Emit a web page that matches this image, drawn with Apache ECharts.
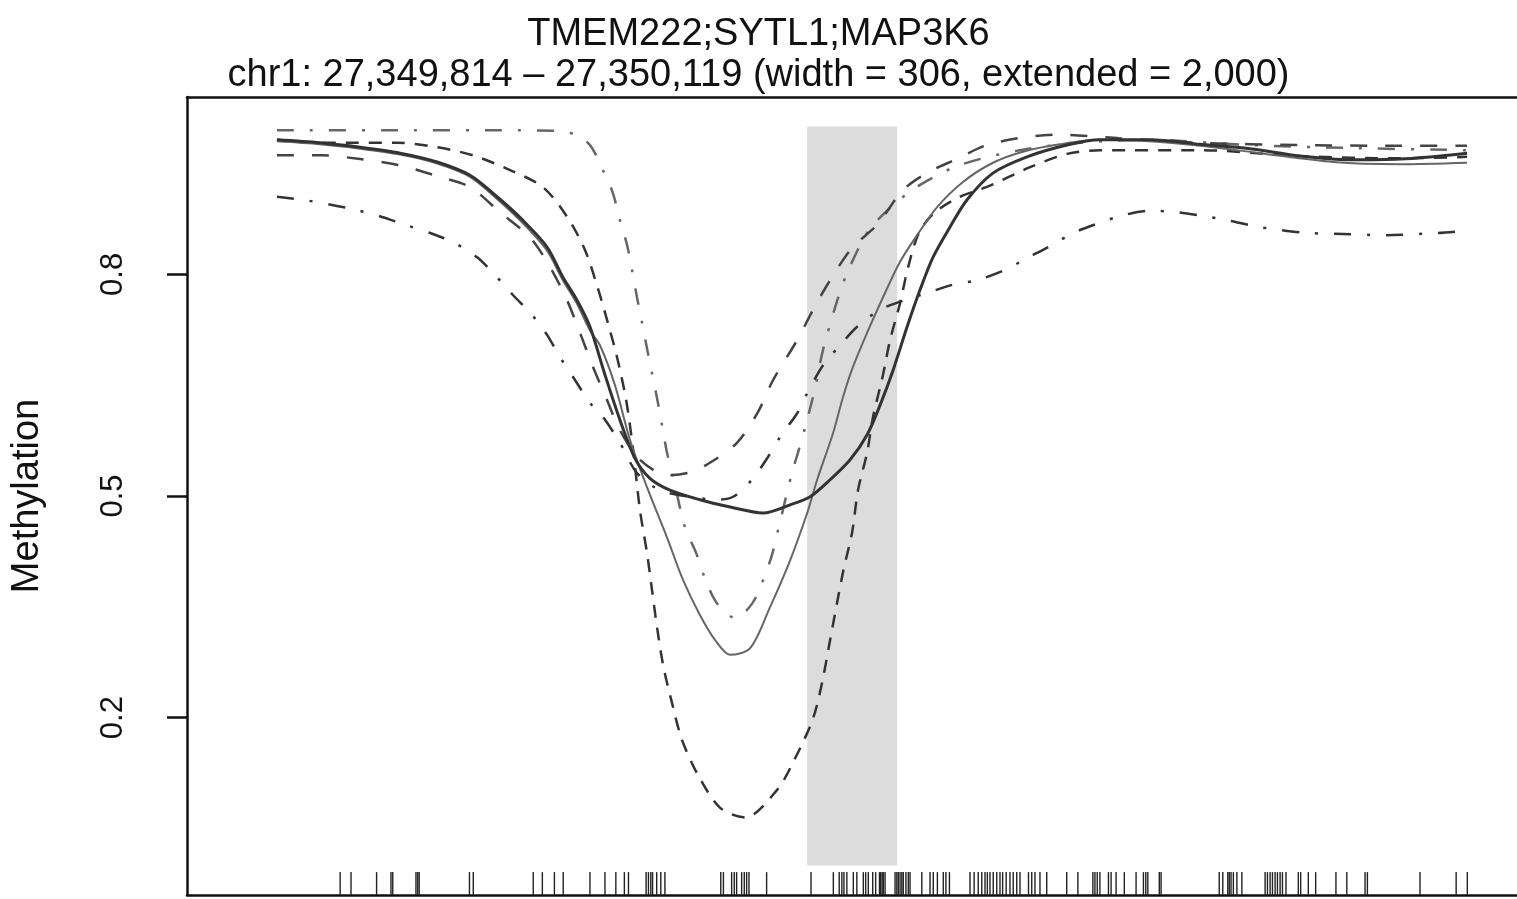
<!DOCTYPE html>
<html>
<head>
<meta charset="utf-8">
<script src="https://cdn.jsdelivr.net/npm/echarts@6/dist/echarts.min.js"></script>
<style>
  html, body { margin: 0; padding: 0; background: #fff; }
  #chart { width: 1517px; height: 899px; }
</style>
</head>
<body>
<div id="chart"></div>
<script>
// positions are bp offsets from the start of the extended window (27,347,814)
var titleMain = 'TMEM222;SYTL1;MAP3K6';
var titleSub = 'chr1: 27,349,814 \u2013 27,350,119 (width = 306, extended = 2,000)';
var regionStart = 2000, regionEnd = 2306;
var yTicks = [0.2, 0.5, 0.8];

// solid, thick
var sampleA = [[196,0.982],[343,0.978],[479,0.972],[615,0.964],[741,0.952],[853,0.934],[945,0.905],[1033,0.873],
  [1115,0.837],[1169,0.796],[1217,0.765],[1261,0.729],[1312,0.664],[1363,0.603],[1414,0.551],[1465,0.524],
  [1533,0.508],[1635,0.495],[1738,0.485],[1850,0.477],[1942,0.488],[2010,0.499],[2078,0.522],[2146,0.549],
  [2204,0.583],[2248,0.623],[2292,0.670],[2340,0.729],[2384,0.779],[2428,0.823],[2486,0.864],[2544,0.901],
  [2632,0.937],[2748,0.959],[2884,0.975],[2996,0.982],[3166,0.982],[3337,0.976],[3507,0.970],[3677,0.960],
  [3847,0.955],[4017,0.956],[4245,0.964]];
// solid, thin
var sampleB = [[196,0.980],[343,0.976],[479,0.970],[615,0.962],[741,0.950],[853,0.932],[945,0.902],[1033,0.869],
  [1115,0.832],[1169,0.792],[1217,0.760],[1261,0.724],[1295,0.704],[1346,0.650],[1397,0.576],[1455,0.512],
  [1523,0.444],[1578,0.386],[1635,0.339],[1687,0.305],[1738,0.285],[1806,0.294],[1874,0.350],[1942,0.413],
  [2000,0.477],[2034,0.522],[2088,0.585],[2122,0.634],[2156,0.675],[2204,0.721],[2258,0.769],[2316,0.817],
  [2374,0.853],[2442,0.891],[2530,0.925],[2632,0.951],[2734,0.966],[2860,0.976],[2996,0.982],[3166,0.980],
  [3337,0.974],[3541,0.964],[3789,0.952],[4017,0.949],[4245,0.951]];
// dashed, deepest dip
var sampleC = [[196,0.982],[319,0.978],[468,0.978],[604,0.978],[741,0.972],[863,0.961],[989,0.941],[1101,0.918],
  [1183,0.878],[1244,0.833],[1288,0.781],[1322,0.734],[1353,0.688],[1384,0.630],[1408,0.562],[1431,0.481],
  [1455,0.423],[1472,0.373],[1489,0.323],[1510,0.271],[1540,0.220],[1574,0.170],[1629,0.122],[1704,0.078],
  [1789,0.065],[1897,0.102],[1959,0.145],[2020,0.199],[2051,0.248],[2078,0.305],[2122,0.397],[2153,0.451],
  [2173,0.508],[2204,0.559],[2224,0.607],[2258,0.664],[2282,0.711],[2316,0.761],[2343,0.809],[2381,0.857],
  [2435,0.884],[2520,0.905],[2622,0.920],[2758,0.945],[2884,0.963],[2996,0.968],[3337,0.968],[3677,0.960],
  [4017,0.957],[4245,0.959]];
// dashed, shallow dip
var sampleD = [[196,0.961],[349,0.961],[479,0.956],[608,0.948],[741,0.933],[853,0.918],[955,0.884],[1057,0.850],
  [1125,0.810],[1183,0.765],[1227,0.721],[1271,0.675],[1319,0.630],[1363,0.589],[1431,0.549],[1527,0.528],
  [1601,0.532],[1669,0.545],[1761,0.572],[1833,0.614],[1884,0.657],[1966,0.711],[2020,0.752],[2078,0.792],
  [2153,0.836],[2238,0.867],[2326,0.914],[2411,0.938],[2503,0.955],[2612,0.975],[2748,0.986],[2860,0.989],
  [3064,0.984],[3337,0.978],[3677,0.975],[4017,0.974],[4245,0.974]];
// dot-dash, low flanks
var sampleE = [[196,0.905],[281,0.901],[370,0.895],[455,0.888],[543,0.879],[632,0.867],[717,0.856],[802,0.842],
  [877,0.823],[938,0.799],[999,0.772],[1064,0.745],[1115,0.718],[1159,0.688],[1210,0.657],[1261,0.626],
  [1305,0.607],[1363,0.572],[1421,0.531],[1499,0.508],[1601,0.499],[1693,0.495],[1748,0.499],[1812,0.522],
  [1867,0.553],[1908,0.580],[1966,0.612],[2000,0.639],[2054,0.677],[2112,0.704],[2170,0.729],[2248,0.752],
  [2316,0.763],[2418,0.776],[2496,0.786],[2578,0.792],[2673,0.806],[2748,0.822],[2826,0.838],[2905,0.856],
  [2990,0.869],[3075,0.880],[3166,0.886],[3258,0.884],[3347,0.879],[3432,0.873],[3524,0.865],[3609,0.860],
  [3701,0.856],[3789,0.855],[3966,0.853],[4146,0.856],[4238,0.859]];
// dot-dash, high flanks
var sampleF = [[196,0.995],[615,0.995],[955,0.995],[1159,0.994],[1210,0.989],[1261,0.975],[1305,0.941],[1339,0.910],
  [1363,0.873],[1387,0.840],[1404,0.806],[1421,0.769],[1438,0.735],[1455,0.700],[1472,0.666],[1489,0.633],
  [1506,0.596],[1523,0.559],[1544,0.526],[1584,0.458],[1622,0.423],[1652,0.389],[1693,0.355],[1755,0.335],
  [1812,0.354],[1850,0.386],[1880,0.420],[1901,0.454],[1948,0.531],[1969,0.559],[1993,0.593],[2027,0.646],
  [2054,0.698],[2105,0.768],[2136,0.802],[2204,0.856],[2282,0.890],[2384,0.921],[2520,0.948],[2724,0.968],
  [2928,0.978],[3166,0.982],[3507,0.975],[3847,0.971],[4245,0.968]];

// CpG positions for the rug
var rugPos = [411,448,535,584,590,669,675,680,851,864,1068,1099,1140,1170,1261,1312,1349,1378,1392,
  1452,1460,1468,1474,1488,1502,1516,1706,1715,1743,1752,1760,1777,1786,1794,1802,1862,2013,
  2089,2109,2118,2125,2135,2157,2169,2191,2199,2208,2223,2233,2246,2250,2255,2259,2265,
  2299,2305,2310,2316,2322,2327,2336,2344,2350,2390,2418,2429,2443,2463,2472,2484,
  2554,2568,2582,2594,2605,2613,2622,2633,2645,2656,2665,2677,2690,2701,2713,2724,2753,2764,2775,2792,2815,
  2883,2921,2972,2979,2987,2996,3025,3034,3051,3079,3119,3144,3152,3159,3198,3204,
  3402,3414,3431,3436,3442,3450,3462,3479,3558,3566,3575,3583,3592,3600,3609,3617,3629,
  3671,3679,3705,3730,3799,3836,3898,3906,4085,4208,4246];

var myChart = echarts.init(document.getElementById('chart'));

function lineSeries(data, color, width, dash) {
  return {
    type: 'line',
    data: data,
    symbol: 'none',
    smooth: 0.3,
    silent: true,
    lineStyle: { color: color, width: width, type: dash }
  };
}

var font = 'Liberation Sans, Arial, sans-serif';

var option = {
  animation: false,
  title: [
    { text: titleMain, left: 'center', top: 16, padding: 0,
      textStyle: { fontFamily: font, fontSize: 38, fontWeight: 'normal', color: '#111' } },
    { text: titleSub, left: 'center', top: 57, padding: 0,
      textStyle: { fontFamily: font, fontSize: 38, fontWeight: 'normal', color: '#111' } }
  ],
  grid: { left: 187, top: 97, right: 0, bottom: 4 },
  xAxis: [
    { type: 'value', min: -110, max: 4415, position: 'bottom',
      axisLine: { onZero: false, lineStyle: { color: '#111', width: 2.5 } },
      axisTick: { show: false }, axisLabel: { show: false }, splitLine: { show: false } },
    { type: 'value', min: -110, max: 4415, position: 'top',
      axisLine: { onZero: false, lineStyle: { color: '#111', width: 2.5 } },
      axisTick: { show: false }, axisLabel: { show: false }, splitLine: { show: false } }
  ],
  yAxis: {
    type: 'value', min: -0.04, max: 1.04,
    name: 'Methylation', nameLocation: 'middle', nameRotate: 90, nameGap: 140,
    nameTextStyle: { fontFamily: font, fontSize: 38, color: '#111' },
    axisLine: { show: true, onZero: false, lineStyle: { color: '#111', width: 2.5 } },
    axisTick: { show: true, length: 20, customValues: yTicks, lineStyle: { color: '#111', width: 2.5 } },
    axisLabel: { customValues: yTicks, rotate: 90, margin: 58, fontFamily: font, fontSize: 31, color: '#111',
      formatter: function (v) { return v.toFixed(1); } },
    splitLine: { show: false }
  },
  series: [
    {
      type: 'custom',
      silent: true,
      data: rugPos.map(function (p) { return [p, 0]; }),
      encode: { x: 0, y: 1 },
      renderItem: function (params, api) {
        var x = api.value(0);
        var p0 = api.coord([x, -0.04]);
        var p1 = api.coord([x, -0.009]);
        return { type: 'line', shape: { x1: p0[0], y1: p0[1], x2: p1[0], y2: p1[1] },
          style: { stroke: '#222', lineWidth: 1.4 } };
      },
      markArea: {
        silent: true,
        itemStyle: { color: '#dcdcdc' },
        data: [[{ xAxis: regionStart, yAxis: 0 }, { xAxis: regionEnd, yAxis: 1 }]]
      },
      z: 1
    },
    lineSeries(sampleF, '#666', 2.5, [17, 16, 3, 16]),
    lineSeries(sampleE, '#333', 2.5, [17, 16, 3, 16]),
    lineSeries(sampleD, '#444', 2.5, [17, 18]),
    lineSeries(sampleC, '#333', 2.5, [13, 10]),
    lineSeries(sampleB, '#666', 2, 'solid'),
    lineSeries(sampleA, '#333', 3, 'solid')
  ]
};
option && myChart.setOption(option);
</script>
</body>
</html>
